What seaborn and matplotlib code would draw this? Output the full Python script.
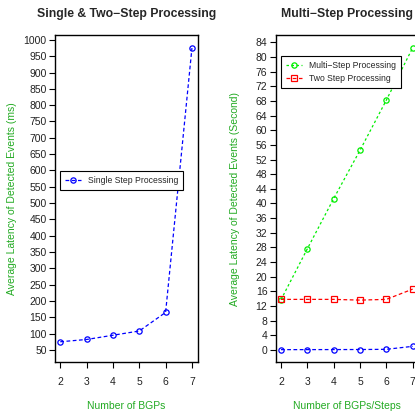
import matplotlib
matplotlib.use("Agg")
import matplotlib.pyplot as plt
import seaborn as sns
import numpy as np

sns.set_style("ticks")
plt.rcParams['font.family'] = ['Liberation Sans', 'DejaVu Sans']

bgps = [2, 3, 4, 5, 6, 7]
single_ms = [75, 82, 95, 108, 165, 975]
single_s = [v / 1000 for v in single_ms]
multi_s = [13.7, 27.6, 41.3, 54.5, 68.2, 82.5]
two_s = [13.8, 13.8, 13.8, 13.6, 13.8, 16.6]

left_yticks = list(range(50, 1001, 50))
right_yticks = list(range(0, 85, 4))

W, H = 415, 417
fig = plt.figure(figsize=(W / 100, H / 100), dpi=100)

def px_axes(x0, x1, ytop, ybot):
    return fig.add_axes([x0 / W, (H - ybot) / H, (x1 - x0) / W, (ybot - ytop) / H])

ax1 = px_axes(55, 198, 35, 362)
ax2 = px_axes(275.7, 418.7, 35, 362)

green = '#22aa22'
tick_col = '#222222'

def style(ax):
    for s in ax.spines.values():
        s.set_linewidth(1.0)
        s.set_color('black')
        s.set_visible(True)
    ax.tick_params(axis='both', direction='out', length=4, width=0.8,
                   labelsize=7.5, colors='black', labelcolor=tick_col)
    ax.tick_params(axis='x', pad=7)
    ax.tick_params(axis='y', pad=2)

mk = dict(markersize=3.8, markerfacecolor='none', markeredgewidth=0.9, linewidth=0.9)

# Left panel
sns.lineplot(x=bgps, y=single_ms, ax=ax1, color='blue', linestyle=(0, (3, 2)),
             marker='o', markeredgecolor='blue', label='Single Step Processing', **mk)
ax1.set_xlim(1.8, 7.23)
ax1.set_ylim(13, 1015)
ax1.set_xticks(bgps)
ax1.set_yticks(left_yticks)
style(ax1)
ax1.set_title('Single & Two\u2212Step Processing', fontsize=8.8, fontweight='bold', pad=13)
ax1.set_xlabel('Number of BGPs', color=green, fontsize=7.5, labelpad=10)
ax1.set_ylabel('Average Latency of Detected Events (ms)', color=green, fontsize=7.5, labelpad=5)
leg1 = ax1.legend(loc='upper left', bbox_to_anchor=(0.035, 0.584), borderaxespad=0,
                  fontsize=6.2, fancybox=False, framealpha=1, edgecolor='black',
                  handlelength=1.8, borderpad=0.6)
leg1.get_frame().set_linewidth(0.8)

# Right panel
sns.lineplot(x=bgps, y=multi_s, ax=ax2, color='#00ee00', linestyle=(0, (2, 2)),
             marker='o', markeredgecolor='#00ee00', label='Multi\u2212Step Processing', **mk)
sns.lineplot(x=bgps, y=two_s, ax=ax2, color='red', linestyle=(0, (3, 2)),
             marker='s', markeredgecolor='red', label='Two Step Processing', **mk)
sns.lineplot(x=bgps, y=single_s, ax=ax2, color='blue', linestyle=(0, (3, 2)),
             marker='o', markeredgecolor='blue', legend=False, **mk)
ax2.set_xlim(1.8, 7.23)
ax2.set_ylim(-3.3, 86)
ax2.set_xticks(bgps)
ax2.set_yticks(right_yticks)
style(ax2)
ax2.set_title('Multi\u2212Step Processing', fontsize=8.8, fontweight='bold', pad=13)
ax2.set_xlabel('Number of BGPs/Steps', color=green, fontsize=7.5, labelpad=10)
ax2.set_ylabel('Average Latency of Detected Events (Second)', color=green, fontsize=7.5, labelpad=11)
handles, labels = ax2.get_legend_handles_labels()
leg2 = ax2.legend(handles[:2], labels[:2], loc='upper left', bbox_to_anchor=(0.037, 0.936),
                  borderaxespad=0, fontsize=6.2, fancybox=False, framealpha=1,
                  edgecolor='black', handlelength=1.8, borderpad=0.6, labelspacing=0.45)
leg2.get_frame().set_linewidth(0.8)

fig.savefig('out.png', dpi=100)
